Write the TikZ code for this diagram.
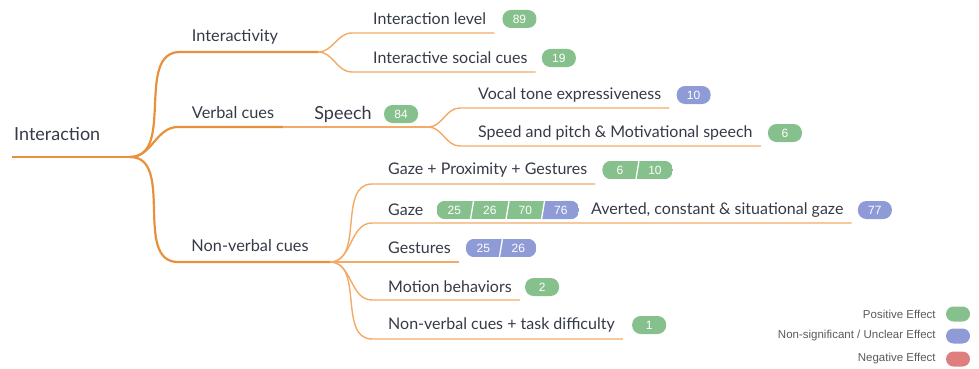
\documentclass[tikz,border=0pt]{standalone}
\usepackage{fontspec}
\setmainfont{Lato}
\newfontfamily\arial{Liberation Sans}
\usetikzlibrary{positioning,calc}

\definecolor{trunk}{HTML}{E8913A}
\definecolor{twig}{HTML}{F2AA66}
\definecolor{ink}{HTML}{363A47}
\definecolor{good}{HTML}{86C08C}
\definecolor{unclear}{HTML}{8E9BD6}
\definecolor{bad}{HTML}{DE7E7E}
\definecolor{legendink}{HTML}{5A5A5A}

\begin{document}
\begin{tikzpicture}[x=1pt,y=-1pt,
  lbl/.style={text=ink, font=\fontsize{16}{18}\selectfont, inner sep=0pt, anchor=west},
  branchtxt/.style={text=ink, font=\fontsize{16.3}{18}\selectfont, inner sep=0pt},
  roottxt/.style={text=ink, font=\fontsize{18}{20}\selectfont, inner sep=0pt},
  trunkline/.style={draw=trunk, line width=2.2pt},
  twigline/.style={draw=twig, line width=1.4pt},
  pill/.style={fill=good, rounded corners=8.5pt, minimum height=18pt, minimum width=34pt,
    inner sep=0pt, text=white, font=\arial\fontsize{12}{13}\selectfont},
  pillbox/.style={inner sep=0pt, minimum height=18pt},
  pilltxt/.style={inner sep=0pt, text=white, font=\arial\fontsize{12}{13}\selectfont},
  divider/.style={draw=white, line width=1.3pt},
  legendtxt/.style={text=legendink, font=\arial\fontsize{11.5}{13}\selectfont, inner sep=0pt, anchor=east},
  swatch/.style={rounded corners=7.5pt, minimum width=24pt, minimum height=15pt, inner sep=0pt}]
\useasboundingbox (0,0) rectangle (979,369);

% root
\coordinate (rootL) at (12,157);
\coordinate (hub) at (130,157);
\node[roottxt, anchor=west] (interaction) at (14,134) {Interaction};
\draw[trunkline] (rootL) -- (hub);

% interactivity
\coordinate (actS) at (180,52);
\coordinate (actF) at (318,52);
\node[branchtxt] (interactivity) at (235,37) {Interactivity};
\draw[trunkline] (hub) to[out=0,in=180] (actS) -- (actF);

\coordinate (lvlS) at (352,33);
\node[lbl] (lvl) at (373,19) {Interaction level};
\node[pill, right=16pt of lvl] (t89) {89};
\draw[twigline] (actF) to[out=0,in=180] (lvlS) -- ($(lvl.east |- lvlS)+(8,0)$);

\coordinate (socS) at (352,72);
\node[lbl] (soc) at (373,58) {Interactive social cues};
\node[pill, right=14pt of soc] (t19) {19};
\draw[twigline] (actF) to[out=0,in=180] (socS) -- ($(soc.east |- socS)+(8,0)$);

% verbal cues
\coordinate (verbS) at (178,127);
\coordinate (verbM) at (283,127);
\coordinate (speechF) at (428,127);
\node[branchtxt] (verbal) at (233,113) {Verbal cues};
\node[roottxt] (speech) at (343,114) {Speech};
\node[pill, right=12pt of speech] (t84) {84};
\draw[trunkline] (hub) to[out=0,in=180] (verbS) -- (verbM);
\draw[twigline] (verbM) -- (speechF);

\coordinate (toneS) at (460,108);
\node[lbl] (tone) at (478,95) {Vocal tone expressiveness};
\node[pill, fill=unclear, right=15pt of tone] (t10) {10};
\draw[twigline] (speechF) to[out=0,in=180] (toneS) -- ($(tone.east |- toneS)+(8,0)$);

\coordinate (pitchS) at (460,146);
\node[lbl] (pitch) at (478,133) {Speed and pitch \& Motivational speech};
\node[pill, right=15pt of pitch] (t6) {6};
\draw[twigline] (speechF) to[out=0,in=180] (pitchS) -- ($(pitch.east |- pitchS)+(8,0)$);

% non-verbal cues
\coordinate (nvS) at (178,262);
\coordinate (nvF) at (330,262);
\node[branchtxt] (nonverbal) at (250,246) {Non-verbal cues};
\draw[trunkline] (hub) to[out=0,in=180] (nvS) -- (nvF);

\coordinate (gpgS) at (372,184);
\node[lbl] (gpg) at (388,170) {Gaze + Proximity + Gestures};
\node[pillbox, minimum width=70pt, right=15pt of gpg] (gpgtags) {};
\begin{scope}
\clip[rounded corners=8.5pt] (gpgtags.south west) rectangle (gpgtags.north east);
\fill[good] (gpgtags.south west) rectangle (gpgtags.north east);
\end{scope}
\node[pilltxt] (gpg6) at ($(gpgtags.west)+(17.5,0)$) {6};
\node[pilltxt] (gpg10) at ($(gpgtags.west)+(52.5,0)$) {10};
\draw[divider] ($(gpgtags.south west)+(33.5,0)$) -- ++(3,-18);
\draw[twigline] (nvF) to[out=0,in=180] (gpgS) -- ($(gpg.east |- gpgS)+(8,0)$);

\coordinate (gazeS) at (372,223);
\node[lbl] (gaze) at (388,210) {Gaze};
\node[pillbox, minimum width=142pt, right=13pt of gaze] (gazetags) {};
\begin{scope}
\clip[rounded corners=8.5pt] (gazetags.south west) rectangle (gazetags.north east);
\fill[good] (gazetags.south west) rectangle (gazetags.north east);
\fill[unclear] ($(gazetags.south west)+(105,0)$) -- ++(3,-18) -- (gazetags.north east) -- (gazetags.south east) -- cycle;
\end{scope}
\foreach \n [count=\i from 0] in {25,26,70,76}
  \node[pilltxt] (gaze\n) at ($(gazetags.west)+(\i*35.5+17.75,0)$) {\n};
\foreach \i in {1,2,3}
  \draw[divider] ($(gazetags.south west)+(\i*35.5-1.5,0)$) -- ++(3,-18);
\node[lbl, right=12pt of gazetags] (averted) {Averted, constant \& situational gaze};
\node[pill, fill=unclear, right=14pt of averted] (t77) {77};
\draw[twigline] (nvF) to[out=0,in=180] (gazeS) -- ($(averted.east |- gazeS)+(8,0)$);

\node[lbl] (gest) at (388,248) {Gestures};
\node[pillbox, minimum width=70pt, right=15pt of gest] (gesttags) {};
\begin{scope}
\clip[rounded corners=8.5pt] (gesttags.south west) rectangle (gesttags.north east);
\fill[unclear] (gesttags.south west) rectangle (gesttags.north east);
\end{scope}
\node[pilltxt] (gest25) at ($(gesttags.west)+(17.5,0)$) {25};
\node[pilltxt] (gest26) at ($(gesttags.west)+(52.5,0)$) {26};
\draw[divider] ($(gesttags.south west)+(33.5,0)$) -- ++(3,-18);
\draw[twigline] (nvF) -- ($(gest.east |- nvF)+(8,0)$);

\coordinate (motionS) at (372,300);
\node[lbl] (motion) at (388,287) {Motion behaviors};
\node[pill, right=13pt of motion] (t2) {2};
\draw[twigline] (nvF) to[out=0,in=180] (motionS) -- ($(motion.east |- motionS)+(8,0)$);

\coordinate (taskS) at (372,339);
\node[lbl] (task) at (388,325) {Non-verbal cues + task difficulty};
\node[pill, right=17pt of task] (t1) {1};
\draw[twigline] (nvF) to[out=0,in=180] (taskS) -- ($(task.east |- taskS)+(8,0)$);

% legend
\node[swatch, fill=good] (kgood) at (958,314) {};
\node[legendtxt, left=10pt of kgood] (lgood) {Positive Effect};
\node[swatch, fill=unclear] (kunclear) at (958,336) {};
\node[legendtxt, left=10pt of kunclear] (lunclear) {Non-significant / Unclear Effect};
\node[swatch, fill=bad] (kbad) at (958,359) {};
\node[legendtxt, left=10pt of kbad] (lbad) {Negative Effect};
\end{tikzpicture}
\end{document}
